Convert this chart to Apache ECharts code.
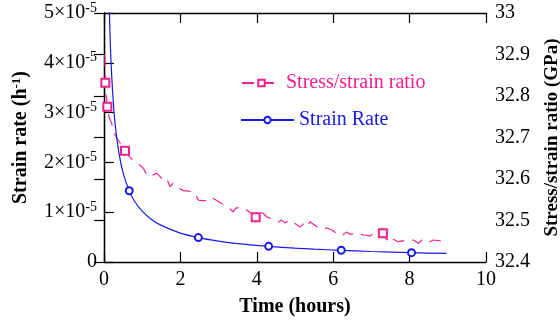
<!DOCTYPE html>
<html>
<head>
<meta charset="utf-8">
<script src="https://cdn.jsdelivr.net/npm/echarts@6/dist/echarts.min.js"></script>
<style>
html,body{margin:0;padding:0;background:#fff;}
#chart{width:560px;height:323px;}
</style>
</head>
<body>
<div id="chart"></div>
<script>
// Strain rate (h^-1) vs time (hours)
const srTime = [0.13, 0.16, 0.2, 0.25, 0.3, 0.4, 0.5, 0.66, 0.8, 1.0, 1.25, 1.5, 2.0, 2.47, 3.0, 3.5, 4.31, 5.0, 5.5, 6.21, 7.0, 8.05, 8.97];
const srVal = [5.4e-5, 4.5e-5, 3.76e-5, 3.14e-5, 2.71e-5, 2.15e-5, 1.79e-5, 1.43e-5, 1.22e-5, 1.02e-5, 0.85e-5, 0.735e-5, 0.58e-5, 0.49e-5, 0.42e-5, 0.37e-5, 0.315e-5, 0.277e-5, 0.257e-5, 0.235e-5, 0.211e-5, 0.187e-5, 0.172e-5];
const srMarkerTimes = [0.66, 2.47, 4.31, 6.21, 8.05];

// Stress/strain ratio (GPa) vs time (hours)
const ssTime = [0.02, 0.035, 0.06, 0.087, 0.13, 0.2, 0.29, 0.37, 0.55, 0.7, 0.85, 1.03, 1.12, 1.2, 1.38, 1.55, 1.64, 1.73, 1.81, 1.95, 2.08, 2.21, 2.38, 2.47, 2.6, 2.73, 2.82, 2.95, 3.1, 3.25, 3.38, 3.45, 3.6, 3.82, 3.97, 4.08, 4.17, 4.26, 4.4, 4.56, 4.65, 4.74, 4.85, 5.0, 5.13, 5.22, 5.31, 5.39, 5.55, 5.7, 5.83, 5.96, 6.09, 6.22, 6.35, 6.44, 6.62, 6.8, 6.96, 7.09, 7.3, 7.4, 7.49, 7.57, 7.7, 7.9, 8.1, 8.23, 8.32, 8.49, 8.62, 8.8, 8.93];
const ssVal = [32.90, 32.832, 32.80, 32.774, 32.750, 32.734, 32.706, 32.694, 32.668, 32.650, 32.640, 32.626, 32.610, 32.606, 32.614, 32.598, 32.602, 32.581, 32.590, 32.578, 32.572, 32.571, 32.566, 32.549, 32.548, 32.548, 32.555, 32.548, 32.540, 32.532, 32.521, 32.530, 32.532, 32.520, 32.508, 32.521, 32.517, 32.509, 32.503, 32.496, 32.501, 32.494, 32.501, 32.493, 32.484, 32.492, 32.484, 32.497, 32.487, 32.479, 32.482, 32.477, 32.469, 32.463, 32.472, 32.467, 32.469, 32.465, 32.463, 32.469, 32.469, 32.453, 32.463, 32.455, 32.449, 32.452, 32.453, 32.445, 32.453, 32.447, 32.453, 32.451, 32.435];
const ssMarkerTimes = [0.035, 0.087, 0.55, 3.97, 7.3];

const xTicks = [0, 2, 4, 6, 8, 10];
const leftTicks = [0, 1e-5, 2e-5, 3e-5, 4e-5, 5e-5];
const rightTicks = [32.4, 32.5, 32.6, 32.7, 32.8, 32.9, 33];

const PINK = '#f0208c';
const BLUE = '#1a1ae6';
const FONT = '"Liberation Serif", "Times New Roman", serif';

function build(times, vals, markers, sym) {
  return times.map((t, i) => ({
    value: [t, vals[i]],
    symbol: markers.includes(t) ? sym : 'none'
  }));
}

const chart = echarts.init(document.getElementById('chart'), null, {renderer: 'canvas'});
const axisLine = {show: true, lineStyle: {color: '#000', width: 1.3}};
const tick = {show: true, inside: true, length: 10, lineStyle: {color: '#000', width: 1.2}};

chart.setOption({
  animation: false,
  backgroundColor: '#fff',
  grid: {left: 104, right: 74, top: 13, bottom: 61, containLabel: false, outerBoundsMode: 'none'},
  legend: [
    {
      data: ['Stress/strain ratio'],
      left: 236, top: 68, orient: 'vertical',
      itemWidth: 39, itemHeight: 8,
      textStyle: {color: PINK, fontFamily: FONT, fontSize: 20, padding: [0, 0, 0, 0]}
    },
    {
      data: ['Strain Rate'],
      left: 235, top: 105, orient: 'vertical',
      itemWidth: 53, itemHeight: 8,
      textStyle: {color: BLUE, fontFamily: FONT, fontSize: 20, padding: [0, 0, 0, 0]}
    }
  ],
  xAxis: [
    {
      type: 'value', min: xTicks[0], max: xTicks[xTicks.length - 1], interval: 2,
      position: 'bottom',
      name: 'Time (hours)', nameLocation: 'middle', nameGap: 35,
      nameTextStyle: {fontFamily: FONT, fontSize: 20, fontWeight: 'bold', color: '#000'},
      axisLine: axisLine, axisTick: tick,
      axisLabel: {fontFamily: FONT, fontSize: 20, color: '#000', margin: 8},
      splitLine: {show: false}
    },
    {
      type: 'value', min: xTicks[0], max: xTicks[xTicks.length - 1], interval: 2,
      position: 'top',
      axisLine: axisLine, axisTick: tick,
      axisLabel: {show: false},
      splitLine: {show: false}
    }
  ],
  yAxis: [
    {
      type: 'value', min: leftTicks[0], max: leftTicks[leftTicks.length - 1], interval: 1e-5,
      position: 'left',
      name: '{a|Strain rate (h}{s|-1}{a|)}', nameLocation: 'middle', nameGap: 72, nameRotate: 90,
      nameTextStyle: {
        rich: {
          a: {fontFamily: FONT, fontSize: 20, fontWeight: 'bold', color: '#000'},
          s: {fontFamily: FONT, fontSize: 13, fontWeight: 'bold', color: '#000', padding: [0, 0, 9, 0]}
        }
      },
      axisLine: axisLine, axisTick: tick,
      axisLabel: {
        margin: 7,
        formatter: function (v) {
          const n = Math.round(v * 1e5);
          if (n === 0) return '{a|0}';
          return '{a|' + n + '×10}{s|-5}';
        },
        rich: {
          a: {fontFamily: FONT, fontSize: 20, color: '#000'},
          s: {fontFamily: FONT, fontSize: 14, color: '#000', padding: [0, 0, 10, 0]}
        }
      },
      splitLine: {show: false}
    },
    {
      type: 'value', min: rightTicks[0], max: rightTicks[rightTicks.length - 1], interval: 0.1,
      position: 'right',
      name: 'Stress/strain ratio (GPa)', nameLocation: 'middle', nameGap: 57, nameRotate: 90,
      nameTextStyle: {fontFamily: FONT, fontSize: 19, fontWeight: 'bold', color: '#000'},
      axisLine: axisLine, axisTick: tick,
      axisLabel: {
        fontFamily: FONT, fontSize: 20, color: '#000', margin: 9,
        formatter: function (v) { return (Math.round(v * 10) / 10).toString(); }
      },
      splitLine: {show: false}
    }
  ],
  series: [
    {
      name: 'Stress/strain ratio',
      type: 'line',
      xAxisIndex: 0, yAxisIndex: 1,
      data: build(ssTime, ssVal, ssMarkerTimes, 'emptyRect'),
      symbol: 'emptyRect', symbolSize: 8,
      itemStyle: {color: PINK, borderColor: PINK, borderWidth: 1.2},
      lineStyle: {color: PINK, width: 1.2, type: [12, 8]},
      z: 3
    },
    {
      name: 'Strain Rate',
      type: 'line',
      xAxisIndex: 0, yAxisIndex: 0,
      data: build(srTime, srVal, srMarkerTimes, 'emptyCircle'),
      symbol: 'emptyCircle', symbolSize: 7,
      smooth: 0.3,
      itemStyle: {color: BLUE, borderColor: BLUE, borderWidth: 1.2},
      lineStyle: {color: BLUE, width: 1.2},
      z: 4
    }
  ]
});
</script>
</body>
</html>
